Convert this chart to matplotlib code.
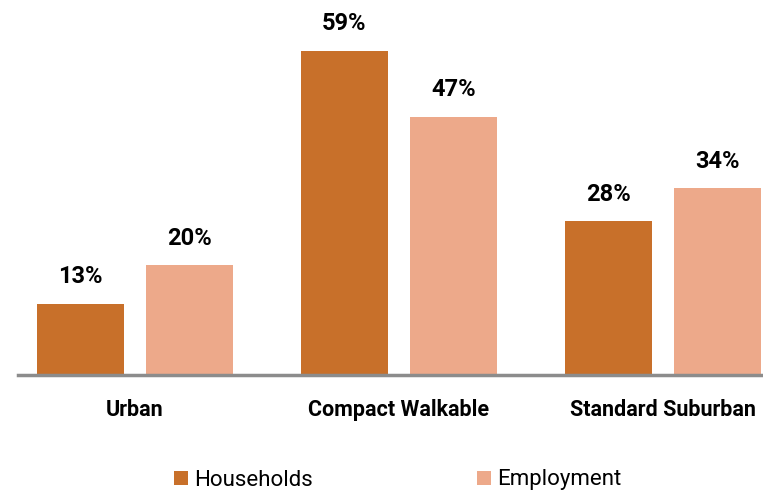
import matplotlib.pyplot as plt
import numpy as np

plt.rcParams['font.family'] = ['Roboto', 'DejaVu Sans']

categories = ["Urban", "Compact Walkable", "Standard Suburban"]
households = [13, 59, 28]
employment = [20, 47, 34]

c_house = "#C8702A"
c_emp = "#EDA98A"

fig = plt.figure(figsize=(7.63, 4.92), dpi=100)
ax = fig.add_axes([18 / 763, 117 / 492, 745 / 763, 375 / 492])

x = np.arange(len(categories))
w = 0.33
b1 = ax.bar(x - 0.207, households, w, color=c_house, label="Households")
b2 = ax.bar(x + 0.207, employment, w, color=c_emp, label="Employment")

for bars, vals in [(b1, households), (b2, employment)]:
    for b, v in zip(bars, vals):
        ax.annotate(f"{v}%", (b.get_x() + b.get_width() / 2, v),
                    xytext=(0, 11), textcoords="offset points",
                    ha="center", va="bottom", fontsize=17, fontweight="bold")

ax.set_xlim(-0.443, 2.379)
ax.set_ylim(0, 68.2)
ax.set_yticks([])
ax.set_xticks(x)
ax.set_xticklabels(categories, fontsize=15.5, fontweight="bold")
ax.tick_params(axis="x", length=0, pad=17)
for s in ["top", "right", "left"]:
    ax.spines[s].set_visible(False)
ax.spines["bottom"].set_color("#8C8C8C")
ax.spines["bottom"].set_linewidth(2.5)

fig.legend(handles=[b1, b2], loc="center", bbox_to_anchor=(398 / 763, 12 / 492),
           ncol=2, frameon=False, fontsize=16, handlelength=0.6, handleheight=0.6,
           handletextpad=0.3, columnspacing=7.4)

fig.savefig("out.png", dpi=100)
